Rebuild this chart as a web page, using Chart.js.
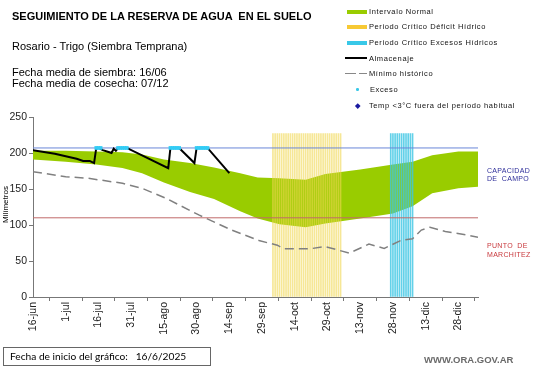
<!DOCTYPE html>
<html><head><meta charset="utf-8">
<script src="https://cdn.jsdelivr.net/npm/chart.js@4/dist/chart.umd.min.js"></script>
<style>
html,body{margin:0;padding:0;background:#fff;}
#wrap{position:relative;width:541px;height:368px;overflow:hidden;font-family:"Liberation Sans",Arial,sans-serif;}
#c{position:absolute;left:0;top:0;}
.t{position:absolute;white-space:pre;color:#000;line-height:1;}
.lg{position:absolute;left:369px;font-size:7.5px;letter-spacing:0.6px;color:#111;white-space:pre;line-height:1;}
.sw{position:absolute;}
</style></head><body>
<div id="wrap">
<canvas id="c" width="541" height="368"></canvas>
<div class="t" style="left:12px;top:11px;font-size:11px;font-weight:bold;">SEGUIMIENTO DE LA RESERVA DE AGUA  EN EL SUELO</div>
<div class="t" style="left:12px;top:41px;font-size:11px;">Rosario - Trigo (Siembra Temprana)</div>
<div class="t" style="left:12px;top:67px;font-size:11px;">Fecha media de siembra: 16/06</div>
<div class="t" style="left:12px;top:78px;font-size:11px;">Fecha media de cosecha: 07/12</div>

<div class="sw" style="left:347px;top:10px;width:20px;height:3.5px;background:#99cc00;"></div>
<div class="lg" style="top:8px;">Intervalo Normal</div>
<div class="sw" style="left:347px;top:25px;width:20px;height:3.5px;background:#f7c934;"></div>
<div class="lg" style="top:23px;">Periodo Crítico Déficit Hídrico</div>
<div class="sw" style="left:347px;top:41px;width:20px;height:3.5px;background:#38c8e8;"></div>
<div class="lg" style="top:39px;">Periodo Crítico Excesos Hídricos</div>
<div class="sw" style="left:345px;top:57px;width:22px;height:2px;background:#000;"></div>
<div class="lg" style="top:54.5px;">Almacenaje</div>
<div class="sw" style="left:345px;top:72.5px;width:11px;height:1.5px;background:#888;"></div>
<div class="sw" style="left:359px;top:72.5px;width:8px;height:1.5px;background:#888;"></div>
<div class="lg" style="top:69.5px;">Mínimo histórico</div>
<div class="sw" style="left:356px;top:88px;width:2.5px;height:2.5px;background:#38c8e8;border-radius:50%;"></div>
<div class="lg" style="left:370px;top:85.5px;">Exceso</div>
<div class="sw" style="left:355.5px;top:103.5px;width:3.5px;height:3.5px;background:#1a1aa0;transform:rotate(45deg);"></div>
<div class="lg" style="top:102px;">Temp &lt;3°C fuera del período habitual</div>

<div class="t" style="left:487px;top:167px;font-size:7px;letter-spacing:0.3px;color:#2e2e9a;">CAPACIDAD</div>
<div class="t" style="left:487px;top:175px;font-size:7px;letter-spacing:0.3px;color:#2e2e9a;">DE  CAMPO</div>
<div class="t" style="left:487px;top:242px;font-size:7px;letter-spacing:0.3px;color:#c8383c;">PUNTO  DE</div>
<div class="t" style="left:487px;top:251px;font-size:7px;letter-spacing:0.3px;color:#c8383c;">MARCHITEZ</div>

<div class="t" style="left:3px;top:347px;width:206px;height:17px;border:1px solid #666;"></div>
<div class="t" style="left:10px;top:350.5px;font-size:10.2px;font-family:Lato,'Open Sans',sans-serif;">Fecha de inicio del gráfico:   16/6/2025</div>
<div class="t" style="left:424px;top:355px;font-size:9.5px;font-weight:bold;color:#6a6a6a;">WWW.ORA.GOV.AR</div>
<div class="t" style="left:2px;top:209px;font-size:8px;transform-origin:0 0;transform:rotate(-90deg) translate(-14px,0);">Milímetros</div>
</div>
<script>
// ---- data (x values are days since 16-jun-2025) ----
const tickLabels = ["16-jun","1-jul","16-jul","31-jul","15-ago","30-ago","14-sep","29-sep","14-oct","29-oct","13-nov","28-nov","13-dic","28-dic"];
const bandDays    = [0,15,29,41,50,60,72,83,95,103,113,125,134,150,165,174,183,195,204];
const normalUpper = [203,203,202,201,198,191,186,180,172,166,165,163,171,177,184,188,197,202,202];
const normalLower = [191,188,184,179,172,159,146,136,119,109,101,97,102,109,116,126,144,151,153];
const minDays     = [0,15,25,41,50,61,76,91,104,112,115,127,134,145,154,161,169,174,178,182,189,199,204];
const minHistorico= [174,167,165,158,151,137,114,93,78,72,67,67,70,61,73.5,67.5,79,81,93,97,91,86,83];
const almDays     = [0,10,20,23,26,28,29,30,32,35,36,37,38,39,43,62,63,67,74,75,80,90];
const almacenaje  = [204,199,192,189,189,186,207,207,204,201,200,206,203,207,207,179,207,207,186,207,207,172];
const excesoDays  = [29,30,31,39,40,41,42,43,63,64,65,66,67,75,76,77,78,79,80];
const excesoValue = 207;
const deficitDays = [110,111,112,113,114,115,116,117,118,119,120,121,122,123,124,125,126,127,128,129,130,131,132,133,134,135,136,137,138,139,140,141];
const excesoPeriodDays = [164,165,166,167,168,169,170,171,172,173,174];
const periodTop = 227;
const capacidadCampo = 207;
const puntoMarchitez = 110;
const xMax = 204;

const pts = (xs, ys) => xs.map((x, i) => ({x, y: ys[i]}));
const cst = (xs, v) => xs.map(x => ({x, y: v}));

Chart.defaults.font.family = '"Liberation Sans", Arial, sans-serif';
new Chart(document.getElementById('c'), {
  type: 'line',
  data: {
    datasets: [
      {label:'Exceso', data: cst(excesoDays, excesoValue), showLine:false, pointStyle:'rect', pointRadius:2.6, pointBackgroundColor:'#33ccf5', pointBorderWidth:0, order:1},
      {label:'Almacenaje', data: pts(almDays, almacenaje), borderColor:'#000', borderWidth:2, pointRadius:0, tension:0, order:2},
      {label:'Capacidad', data: cst([0, xMax], capacidadCampo), borderColor:'#6a86d8', borderWidth:1, pointRadius:0, order:3},
      {label:'Marchitez', data: cst([0, xMax], puntoMarchitez), borderColor:'#c06a6a', borderWidth:1, pointRadius:0, order:4},
      {label:'Mínimo histórico', data: pts(minDays, minHistorico), borderColor:'#808080', borderWidth:1.5, borderDash:[9,5], pointRadius:0, order:5},
      {type:'bar', label:'Periodo Crítico Excesos Hídricos', data: cst(excesoPeriodDays, periodTop), backgroundColor:'rgba(60,198,228,0.8)', barThickness:1, grouped:false, order:6},
      {type:'bar', label:'Periodo Crítico Déficit Hídrico', data: cst(deficitDays, periodTop), backgroundColor:'rgba(240,215,80,0.6)', barThickness:1, grouped:false, order:7},
      {label:'Intervalo Normal sup', data: pts(bandDays, normalUpper), borderWidth:0, borderColor:'rgba(0,0,0,0)', pointRadius:0, fill:{target:'+1'}, backgroundColor:'#99cc00', order:8},
      {label:'Intervalo Normal inf', data: pts(bandDays, normalLower), borderWidth:0, borderColor:'rgba(0,0,0,0)', pointRadius:0, fill:false, order:9}
    ]
  },
  options: {
    responsive:false, devicePixelRatio:1, animation:false,
    layout:{padding:{top:117, right:63, left:0, bottom:0}},
    plugins:{legend:{display:false}, tooltip:{enabled:false}},
    scales:{
      x:{type:'linear', min:0, max:xMax, offset:false,
        grid:{drawOnChartArea:false, drawTicks:true, tickLength:4, color:'#777'},
        border:{color:'#777'},
        ticks:{stepSize:15, includeBounds:false, autoSkip:false, minRotation:90, maxRotation:90, padding:1,
          color:'#222', font:{size:10.5},
          callback:(v)=> (v % 15 === 0 && tickLabels[v/15]) ? tickLabels[v/15] : ''},
        afterFit:(s)=>{ s.height = 71; }
      },
      y:{min:0, max:250,
        grid:{drawOnChartArea:false, drawTicks:true, tickLength:4, color:'#777'},
        border:{color:'#777'},
        ticks:{stepSize:50, padding:2, color:'#222', font:{size:10.5}},
        afterFit:(s)=>{ s.width = 33; }
      }
    }
  }
});
</script>
</body></html>
